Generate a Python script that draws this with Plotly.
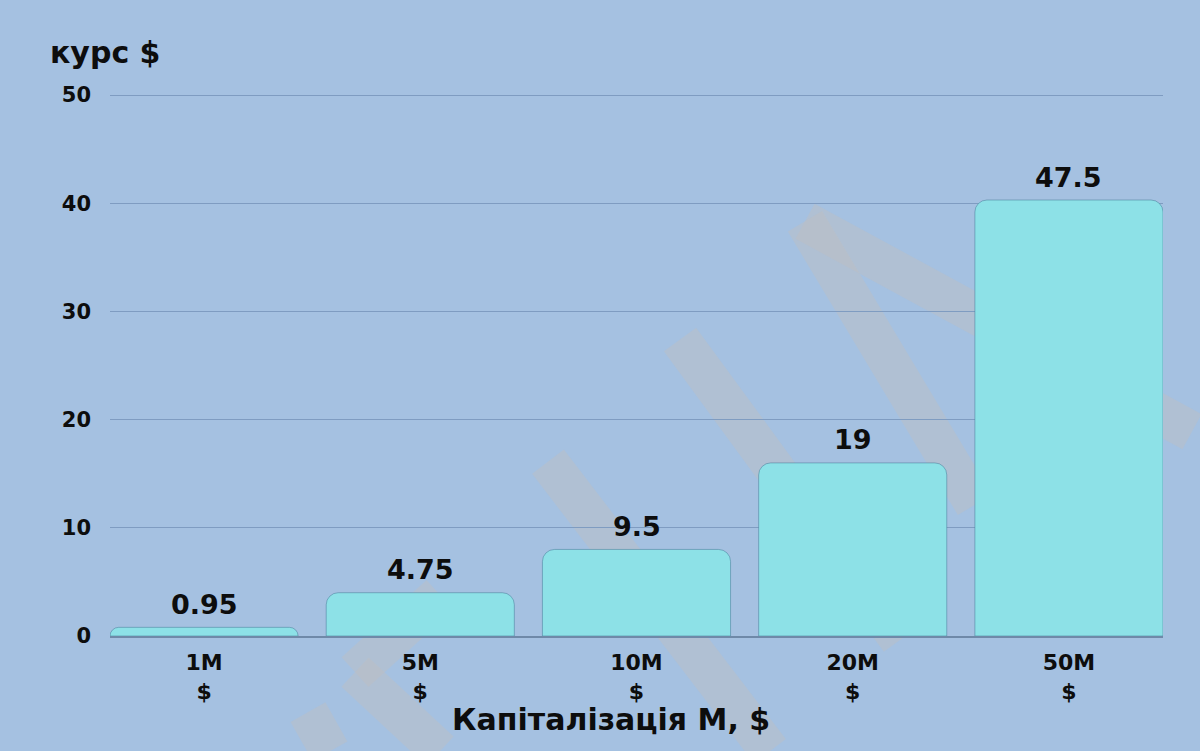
import plotly.graph_objects as go

# Data
categories = ["1M<br>$", "5M<br>$", "10M<br>$", "20M<br>$", "50M<br>$"]
bar_values = [0.8, 4, 8, 16, 40.3]
value_labels = ["0.95", "4.75", "9.5", "19", "47.5"]
y_ticks = [0, 10, 20, 30, 40, 50]
y_title = "курс $"
x_title = "Капіталізація М, $"

FONT = "DejaVu Sans"
BG = "#a5c1e1"
BAR = "#8de1e7"
TXT = "#0d0d0d"

fig = go.Figure()
fig.add_trace(go.Bar(
    x=categories, y=bar_values,
    marker=dict(color=BAR, line=dict(color="rgba(70,120,150,0.5)", width=1)),
    hoverinfo="skip",
))

# value labels above bars
for c, v, t in zip(categories, bar_values, value_labels):
    fig.add_annotation(x=c, y=v, text=f"<b>{t}</b>", showarrow=False,
                       yanchor="middle", yshift=23,
                       font=dict(family=FONT, size=27, color=TXT))

# titles
fig.add_annotation(xref="paper", yref="paper", x=-0.059, y=1.0, xanchor="left",
                   yanchor="middle", yshift=42, text=f"<b>{y_title}</b>", showarrow=False,
                   font=dict(family=FONT, size=30, color=TXT))
fig.add_annotation(xref="paper", yref="paper", x=0.4755, y=0, yanchor="middle",
                   yshift=-83, text=f"<b>{x_title}</b>", showarrow=False,
                   font=dict(family=FONT, size=30, color=TXT))

# faint watermark strokes (pixel positions converted to paper fractions)
strokes = [
    ((805, 222), (1192, 432)),
    ((805, 222), (975, 505)),
    ((680, 340), (900, 640)),
    ((548, 462), (770, 751)),
    ((440, 595), (355, 672)),
    ((355, 672), (440, 751)),
    ((308, 712), (330, 751)),
]
for (x0, y0), (x1, y1) in strokes:
    fig.add_shape(type="line", xref="paper", yref="paper", layer="below",
                  x0=(x0 - 110) / 1053, x1=(x1 - 110) / 1053,
                  y0=(636 - y0) / 541, y1=(636 - y1) / 541,
                  line=dict(color="rgba(190,190,192,0.42)", width=40))

fig.update_layout(
    width=1200, height=751,
    paper_bgcolor=BG, plot_bgcolor="rgba(0,0,0,0)",
    margin=dict(l=110, r=37, t=94, b=115),
    bargap=0.13, showlegend=False,
    font=dict(family=FONT, color=TXT),
    barcornerradius=12,
)
fig.update_xaxes(
    range=[-0.435, 4.435], showgrid=False,
    showline=True, linecolor="#6f89a8", linewidth=2,
    tickfont=dict(family=FONT, size=22, color=TXT),
    ticklabelstandoff=6,
    tickvals=categories, ticktext=[f"<b>{c}</b>" for c in categories],
)
fig.update_yaxes(
    range=[0, 50.1], tickvals=y_ticks, ticktext=[f"<b>{t}</b>" for t in y_ticks],
    showgrid=True, gridcolor="#7f9cc1", gridwidth=1, zeroline=False,
    tickfont=dict(family=FONT, size=21, color=TXT),
    ticklabelstandoff=18,
)
fig.write_html("out.html", config={"displayModeBar": False},
               post_script="document.body.style.margin='0';")
